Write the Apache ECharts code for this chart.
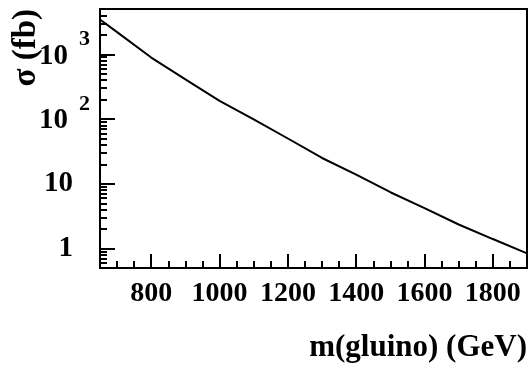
<!DOCTYPE html>
<html>
<head>
<meta charset="utf-8">
<script src="https://cdn.jsdelivr.net/npm/echarts@6/dist/echarts.min.js"></script>
<style>
html,body{margin:0;padding:0;background:#fff;}
#chart{width:528px;height:365px;}
</style>
</head>
<body>
<div id="chart"></div>
<script>
// gluino pair cross section vs mass
var massGeV = [650, 700, 800, 900, 1000, 1100, 1200, 1300, 1400, 1500, 1600, 1700, 1800, 1900];
var sigmaFb = [3440, 2200, 890, 410, 190, 99, 50, 25, 13.8, 7.4, 4.2, 2.35, 1.40, 0.84];

var xMajorTicks = [800, 1000, 1200, 1400, 1600, 1800];
var xMinorTicks = [700, 750, 850, 900, 950, 1050, 1100, 1150, 1250, 1300, 1350, 1450, 1500, 1550, 1650, 1700, 1750, 1850];
var yMajorTicks = [1, 10, 100, 1000];
var yMinorTicks = [0.6, 0.7, 0.8, 0.9, 2, 3, 4, 5, 6, 7, 8, 9, 20, 30, 40, 50, 60, 70, 80, 90,
	200, 300, 400, 500, 600, 700, 800, 900, 2000, 3000, 4000];

var serif = '"Liberation Serif", "Times New Roman", serif';

var points = [];
for (var i = 0; i < massGeV.length; i++) {
	points.push([massGeV[i], sigmaFb[i]]);
}

var chart = echarts.init(document.getElementById("chart"), null, { width: 528, height: 365 });

var option = {
	animation: false,
	backgroundColor: '#fff',
	grid: {
		left: 100,
		top: 9,
		right: 1,
		bottom: 97,
		show: true,
		borderColor: '#000',
		borderWidth: 2,
		containLabel: false
	},
	xAxis: [{
		type: 'value',
		min: 650,
		max: 1900,
		splitLine: { show: false },
		axisLine: { show: true, onZero: false, lineStyle: { color: '#000', width: 2 } },
		axisTick: { show: true, inside: true, length: 14, customValues: xMajorTicks, lineStyle: { color: '#000', width: 2 } },
		axisLabel: {
			customValues: xMajorTicks,
			margin: 12,
			color: '#000',
			fontFamily: serif,
			fontWeight: 'bold',
			fontSize: 28,
			formatter: function (v) { return String(v); }
		}
	}, {
		type: 'value',
		min: 650,
		max: 1900,
		position: 'bottom',
		splitLine: { show: false },
		axisLine: { show: false },
		axisLabel: { show: false },
		axisTick: { show: true, inside: true, length: 7, customValues: xMinorTicks, lineStyle: { color: '#000', width: 2 } }
	}],
	yAxis: [{
		type: 'log',
		logBase: 10,
		min: 0.5,
		max: 5000,
		position: 'left',
		splitLine: { show: false },
		axisLine: { show: true, lineStyle: { color: '#000', width: 2 } },
		axisTick: { show: true, inside: true, length: 15, customValues: yMajorTicks, lineStyle: { color: '#000', width: 2 } },
		axisLabel: {
			customValues: yMajorTicks,
			margin: 10,
			color: '#000',
			formatter: function (v) {
				var e = Math.round(Math.log10(v));
				if (e < 2) {
					return '{p|' + v + '}';
				}
				return '{b|10}{s|' + e + '}';
			},
			rich: {
				p: { fontFamily: serif, fontWeight: 'bold', fontSize: 29, color: '#000', padding: [0, 17, 0, 0] },
				b: { fontFamily: serif, fontWeight: 'bold', fontSize: 29, color: '#000', padding: [13, 0, 9, 0], verticalAlign: 'bottom' },
				s: { fontFamily: serif, fontWeight: 'bold', fontSize: 22, color: '#000', padding: [0, 0, 0, 11], verticalAlign: 'top' }
			}
		}
	}, {
		type: 'log',
		logBase: 10,
		min: 0.5,
		max: 5000,
		position: 'left',
		splitLine: { show: false },
		axisLine: { show: false },
		axisLabel: { show: false },
		axisTick: { show: true, inside: true, length: 7, customValues: yMinorTicks, lineStyle: { color: '#000', width: 2 } }
	}],
	graphic: [{
		type: 'text',
		x: 26,
		y: 9,
		rotation: Math.PI / 2,
		style: {
			text: 'σ (fb)',
			font: 'bold 33px ' + serif,
			fill: '#000',
			align: 'right',
			verticalAlign: 'middle'
		}
	}, {
		type: 'text',
		x: 527,
		y: 348,
		style: {
			text: 'm(gluino) (GeV)',
			font: 'bold 31px ' + serif,
			fill: '#000',
			align: 'right',
			verticalAlign: 'middle'
		}
	}],
	series: [{
		name: 'sigma',
		type: 'line',
		xAxisIndex: 0,
		yAxisIndex: 0,
		data: points,
		showSymbol: false,
		symbol: 'none',
		lineStyle: { color: '#000', width: 2 },
		clip: true
	}]
};

chart.setOption(option);
</script>
</body>
</html>
